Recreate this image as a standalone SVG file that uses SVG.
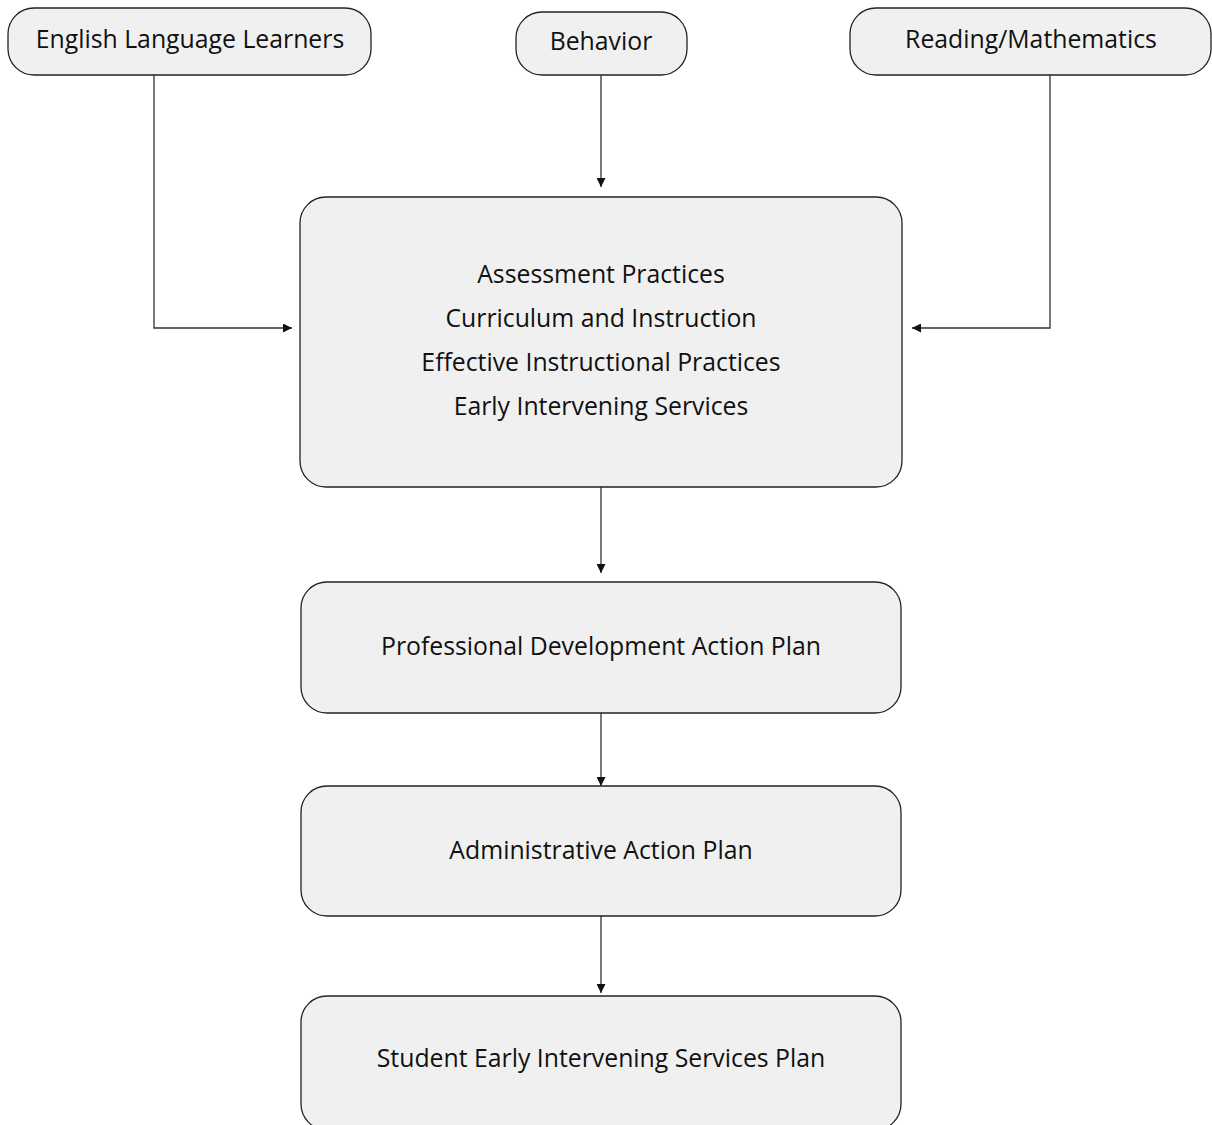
<svg xmlns="http://www.w3.org/2000/svg" width="1212" height="1125" viewBox="0 0 1212 1125">
<style>
.node{fill:#f0f0f0;stroke:#222;stroke-width:1.3}
.t{font-family:"Open Sans","Liberation Sans",sans-serif;font-size:24.8px;fill:#111;text-anchor:middle}
.c{fill:none;stroke:#333;stroke-width:1.3}
</style>
<defs>
<marker id="ah" viewBox="0 0 10 10" refX="10" refY="5" markerWidth="9" markerHeight="9" markerUnits="userSpaceOnUse" orient="auto">
<path d="M0,0 L10,5 L0,10 z" fill="#111"/>
</marker>
</defs>
<rect width="1212" height="1125" fill="#fff"/>
<g id="connectors">
<path class="c" d="M154,75 V328 H292" marker-end="url(#ah)"/>
<path class="c" d="M1050,75 V328 H912" marker-end="url(#ah)"/>
<path class="c" d="M601,75 V187" marker-end="url(#ah)"/>
<path class="c" d="M601,487 V573" marker-end="url(#ah)"/>
<path class="c" d="M601,713 V786" marker-end="url(#ah)"/>
<path class="c" d="M601,916 V993" marker-end="url(#ah)"/>
</g>
<g id="ell"><rect class="node" x="8" y="8" width="363" height="67" rx="26"/><text class="t" x="190" y="48">English Language Learners</text></g>
<g id="behavior"><rect class="node" x="516" y="12" width="171" height="63" rx="26"/><text class="t" x="601" y="50">Behavior</text></g>
<g id="readmath"><rect class="node" x="850" y="8" width="361" height="67" rx="26"/><text class="t" x="1031" y="48">Reading/Mathematics</text></g>
<g id="main"><rect class="node" x="300" y="197" width="602" height="290" rx="26"/>
<text class="t" x="601" y="283">Assessment Practices</text>
<text class="t" x="601" y="327">Curriculum and Instruction</text>
<text class="t" x="601" y="371">Effective Instructional Practices</text>
<text class="t" x="601" y="415">Early Intervening Services</text></g>
<g id="pd"><rect class="node" x="301" y="582" width="600" height="131" rx="26"/><text class="t" x="601" y="655">Professional Development Action Plan</text></g>
<g id="admin"><rect class="node" x="301" y="786" width="600" height="130" rx="26"/><text class="t" x="601" y="859">Administrative Action Plan</text></g>
<g id="student"><rect class="node" x="301" y="996" width="600" height="134" rx="26"/><text class="t" x="601" y="1067">Student Early Intervening Services Plan</text></g>
</svg>
